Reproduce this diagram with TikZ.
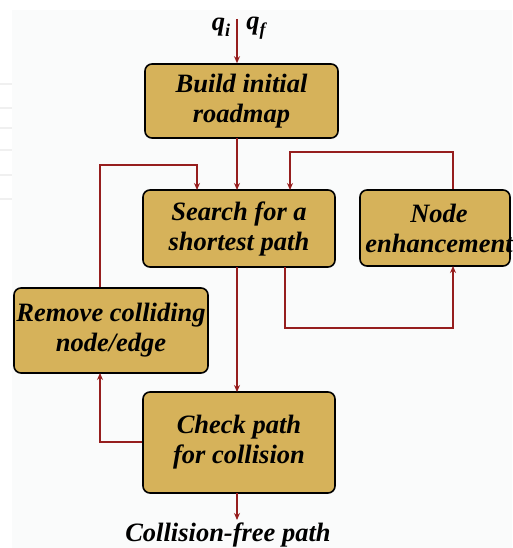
\documentclass[tikz,border=0pt]{standalone}
\usepackage{fontspec}
\setmainfont{Liberation Serif}
\usetikzlibrary{arrows.meta}
\definecolor{boxfill}{RGB}{214,178,90}
\definecolor{flow}{RGB}{150,30,30}
\definecolor{bg}{RGB}{250,251,251}
\tikzset{
  stepbox/.style={draw=black, line width=1.6pt, fill=boxfill, rounded corners=7pt,
    align=center, inner sep=0pt, font=\fontsize{26.5}{30}\selectfont\bfseries\itshape},
  flowline/.style={draw=flow, line width=2.2pt, -{Stealth[length=7pt,width=6pt]}},
  lbl/.style={font=\fontsize{26.5}{30}\selectfont\bfseries\itshape, inner sep=0pt}
}
\newcommand{\qsub}[1]{q\raisebox{-6pt}{\fontsize{18}{18}\selectfont #1}}
\begin{document}
\begin{tikzpicture}[x=1pt,y=-1pt]
\useasboundingbox (0,0) rectangle (512,548);
\fill[white] (0,0) rectangle (512,548);
\fill[bg] (12,10) rectangle (512,548);
\foreach \yy in {84,108,128,150,175,199}
  \draw[gray!12, line width=1.5pt] (0,\yy) -- (12,\yy);

% boxes
\node[stepbox, minimum width=193pt, minimum height=74pt] (build) at (241.5,101) {Build initial\\roadmap};
\node[stepbox, minimum width=192pt, minimum height=77pt] (search) at (239,228.5) {Search for a\\shortest path};
\node[stepbox, minimum width=150pt, minimum height=76pt, text width=150pt] (enh) at (435,228) {};
\node[font=\fontsize{26.5}{30}\selectfont\bfseries\itshape, align=center, inner sep=0pt] (enhtxt) at (439,228) {Node\\enhancement};
\node[stepbox, minimum width=194pt, minimum height=85pt] (remove) at (111,330.5) {Remove colliding\\node/edge};
\node[stepbox, minimum width=192pt, minimum height=101pt] (check) at (239,442.5) {Check path\\for collision};

% labels
\node[lbl] (qi) at (221,27) {\qsub{i}};
\node[lbl] (qf) at (256,28) {\qsub{f}};
\node[lbl] (out) at (228,535) {Collision-free path};
\coordinate (qtop) at (237,19);
\coordinate (outend) at (237,520);

% connectors
\draw[flowline] (qtop) -- (qtop |- build.north);
\draw[flowline] (237,138) -- (237,190);
\draw[flowline] (enh.north -| 453,0) -- (453,152) -- (290,152) -- (290,190);
\draw[flowline] (285,267) -- (285,328) -- (453,328) -- (453,266);
\draw[flowline] (remove.north -| 100,0) -- (100,165) -- (197,165) -- (197,190);
\draw[flowline] (237,267) -- (237,392);
\draw[flowline] (check.west |- 0,442) -- (100,442) -- (100,373);
\draw[flowline] (237,493) -- (outend);
\end{tikzpicture}
\end{document}
